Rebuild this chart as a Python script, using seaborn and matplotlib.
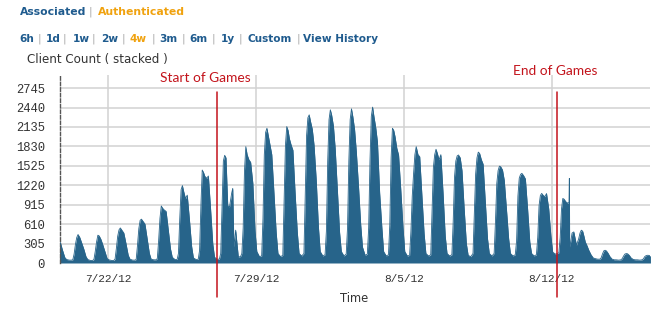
import numpy as np
import pandas as pd
import matplotlib
matplotlib.use("Agg")
import matplotlib.pyplot as plt
import seaborn as sns

nan = np.nan

# ---------------- data ----------------
read_hours = [1, 4, 6.5, 8, 9.5, 11, 12.5, 14, 16, 18, 20.5, 23]

days = ["2012-07-19", "2012-07-20", "2012-07-21", "2012-07-22", "2012-07-23",
        "2012-07-24", "2012-07-25", "2012-07-26", "2012-07-27", "2012-07-28",
        "2012-07-29", "2012-07-30", "2012-07-31", "2012-08-01", "2012-08-02",
        "2012-08-03", "2012-08-04", "2012-08-05", "2012-08-06", "2012-08-07",
        "2012-08-08", "2012-08-09", "2012-08-10", "2012-08-11", "2012-08-12",
        "2012-08-13", "2012-08-14", "2012-08-15", "2012-08-16"]

counts = [
    [nan, nan, nan, nan, nan, nan, nan, nan, 345, 315, 195, 85],        # 07-19
    [55, 45, 45, 50, 140, 290, 400, 447, 400, 320, 220, 100],           # 07-20
    [55, 40, 40, 55, 180, 330, 436, 425, 370, 290, 180, 70],            # 07-21
    [50, 40, 40, 60, 230, 420, 520, 550, 510, 470, 300, 120],           # 07-22
    [60, 45, 45, 55, 280, 540, 670, 688, 650, 610, 380, 150],           # 07-23
    [60, 50, 50, 70, 350, 700, 895, 860, 830, 810, 520, 220],           # 07-24
    [90, 55, 55, 150, 700, 1150, 1215, 1120, 1010, 1065, 680, 260],     # 07-25
    [80, 55, 60, 200, 900, 1459, 1420, 1360, 1330, 1365, 850, 300],     # 07-26
    [90, 60, 60, 150, 900, 1600, 1690, 1650, 900, 880, 1100, 252],      # 07-27
    [515, 95, 100, 150, 550, 1450, 1826, 1700, 1620, 1580, 1250, 500],  # 07-28
    [180, 100, 110, 700, 1700, 2050, 2115, 2000, 1850, 1700, 1100, 480],  # 07-29
    [150, 100, 120, 1000, 1850, 2141, 2080, 1950, 1850, 1770, 1100, 480],  # 07-30
    [150, 110, 150, 1050, 2000, 2280, 2325, 2220, 2100, 1850, 1300, 560],  # 07-31
    [180, 110, 130, 500, 1600, 2250, 2404, 2320, 2150, 1800, 1150, 480],   # 08-01
    [180, 110, 140, 550, 1600, 2250, 2419, 2300, 2100, 1750, 1200, 600],   # 08-02
    [250, 120, 140, 550, 1600, 2300, 2446, 2300, 2130, 1900, 1100, 560],   # 08-03
    [180, 110, 130, 600, 1650, 2115, 2080, 1980, 1800, 1695, 1150, 560],   # 08-04
    [180, 110, 120, 500, 1050, 1400, 1700, 1826, 1700, 1668, 1050, 460],   # 08-05
    [150, 110, 130, 800, 1500, 1700, 1785, 1720, 1620, 1700, 1100, 420],   # 08-06
    [150, 110, 130, 650, 1350, 1600, 1680, 1695, 1650, 1450, 850, 300],    # 08-07
    [120, 100, 150, 800, 1400, 1650, 1740, 1720, 1620, 1550, 950, 380],    # 08-08
    [150, 110, 150, 650, 1250, 1450, 1520, 1510, 1460, 1300, 850, 380],    # 08-09
    [150, 110, 130, 350, 1050, 1330, 1390, 1407, 1370, 1320, 850, 330],    # 08-10
    [150, 110, 130, 400, 900, 1060, 1092, 1065, 1040, 1090, 850, 420],     # 08-11
    [170, 140, 150, 160, 400, 850, 1013, 1000, 960, 940, 252, 470],        # 08-12
    [488, 279, 380, 470, 515, 500, 420, 330, 270, 200, 130, 80],           # 08-13
    [70, 60, 60, 80, 140, 190, 200, 190, 150, 100, 60, 50],                # 08-14
    [50, 45, 50, 70, 110, 140, 148, 145, 120, 80, 55, 50],                 # 08-15
    [50, 45, 50, 65, 100, 115, 121, 120, 110, nan, nan, nan],              # 08-16
]

extra_times = ["2012-07-27 21:40", "2012-08-12 19:30", "2012-08-12 19:55", "2012-08-12 20:15"]
extra_counts = [1171, 950, 1328, 300]

y_ticks = [0, 305, 610, 915, 1220, 1525, 1830, 2135, 2440, 2745]
x_tick_dates = ["2012-07-22", "2012-07-29", "2012-08-05", "2012-08-12"]
x_tick_labels = ["7/22/12", "7/29/12", "8/5/12", "8/12/12"]
x_range = ["2012-07-19 17:30", "2012-08-16 15:30"]
games_start = "2012-07-27 04:10"
games_end = "2012-08-12 05:20"

range_links = ["6h", "1d", "1w", "2w", "4w", "3m", "6m", "1y", "Custom", "View History"]
selected_range = "4w"

# ---------------- build table ----------------
rows_t, rows_v = [], []
for d, vals in zip(days, counts):
    base = pd.Timestamp(d)
    for h, v in zip(read_hours, vals):
        if not np.isnan(v):
            rows_t.append(base + pd.Timedelta(hours=h))
            rows_v.append(v)
for t, v in zip(extra_times, extra_counts):
    rows_t.append(pd.Timestamp(t))
    rows_v.append(v)
df = pd.DataFrame({"time": rows_t, "clients": rows_v}).sort_values("time").reset_index(drop=True)

# ---------------- style ----------------
sns.set_theme(style="white")
plt.rcParams["font.family"] = ["DejaVu Sans"]

FILL = "#27648a"
BLUE = "#1f5b8e"
ORANGE = "#f0a20f"
RED = "#c3141c"
GRID = "#d2d2d2"
TXT = "#333333"

W, H = 668, 309
fig = plt.figure(figsize=(W / 100, H / 100), dpi=100)
fig.patch.set_facecolor("white")

ax_left, ax_right, ax_top, ax_bottom = 60, 650, 75, 263
ax = fig.add_axes([ax_left / W, 1 - ax_bottom / H, (ax_right - ax_left) / W, (ax_bottom - ax_top) / H])

ax.fill_between(df["time"], df["clients"], 0, color=FILL, lw=0, zorder=2)
sns.lineplot(data=df, x="time", y="clients", color=FILL, lw=0.6, ax=ax, zorder=3)

ax.set_xlim(pd.Timestamp(x_range[0]), pd.Timestamp(x_range[1]))
ax.set_ylim(0, 2950)
ax.set_yticks(y_ticks)
ax.set_yticklabels([str(v) for v in y_ticks])
ax.set_xticks(pd.to_datetime(x_tick_dates))
ax.set_xticklabels(x_tick_labels)

ax.grid(True, axis="both", color=GRID, lw=1.1)
ax.set_axisbelow(True)
for s in ["top", "right", "bottom"]:
    ax.spines[s].set_visible(False)
ax.spines["left"].set_linestyle((0, (2.5, 1.5)))
ax.spines["left"].set_color("#555555")
ax.spines["left"].set_linewidth(1.0)

ax.tick_params(axis="y", length=0, pad=11, labelsize=8.7, labelcolor=TXT)
ax.tick_params(axis="x", length=3.6, width=1.1, color=GRID, pad=4.5, labelsize=8, labelcolor=TXT)
for lab in ax.get_xticklabels() + ax.get_yticklabels():
    lab.set_family("Liberation Mono")
ax.set_xlabel("")
ax.set_ylabel("")

# red annotation lines
fr_top = (ax_bottom - 92) / (ax_bottom - ax_top)
fr_bot = (ax_bottom - 297) / (ax_bottom - ax_top)
for t in [games_start, games_end]:
    ax.axvline(pd.Timestamp(t), ymin=fr_bot, ymax=fr_top, color=RED, lw=1.1, clip_on=False, zorder=5)

def ftext(x, y, s, **kw):
    fig.text(x / W, 1 - y / H, s, va="center", **kw)

ftext(160, 77.5, "Start of Games", color=RED, fontsize=9.9, family="Lato")
ftext(513, 71, "End of Games", color=RED, fontsize=9.9, family="Lato")

ftext(354, 299, "Time", color=TXT, fontsize=8.3, ha="center")
ftext(27, 59, "Client Count ( stacked )", color=TXT, fontsize=8.6)

# header
ftext(20, 12, "Associated", color=BLUE, fontsize=7.8, fontweight="bold")
ftext(89, 12, "|", color="#aaaaaa", fontsize=8)
ftext(98, 12, "Authenticated", color=ORANGE, fontsize=7.8, fontweight="bold")

link_x = [19, 46, 73, 101, 130, 159, 189, 221, 247, 303]
sep_x = [38, 63, 92, 122, 152, 182, 212, 239, 297]
for x, s in zip(link_x, range_links):
    ftext(x, 39, s, color=ORANGE if s == selected_range else BLUE, fontsize=7.6, fontweight="bold")
for x in sep_x:
    ftext(x, 39, "|", color="#aaaaaa", fontsize=8)

fig.savefig("out.png", dpi=100, facecolor="white")
